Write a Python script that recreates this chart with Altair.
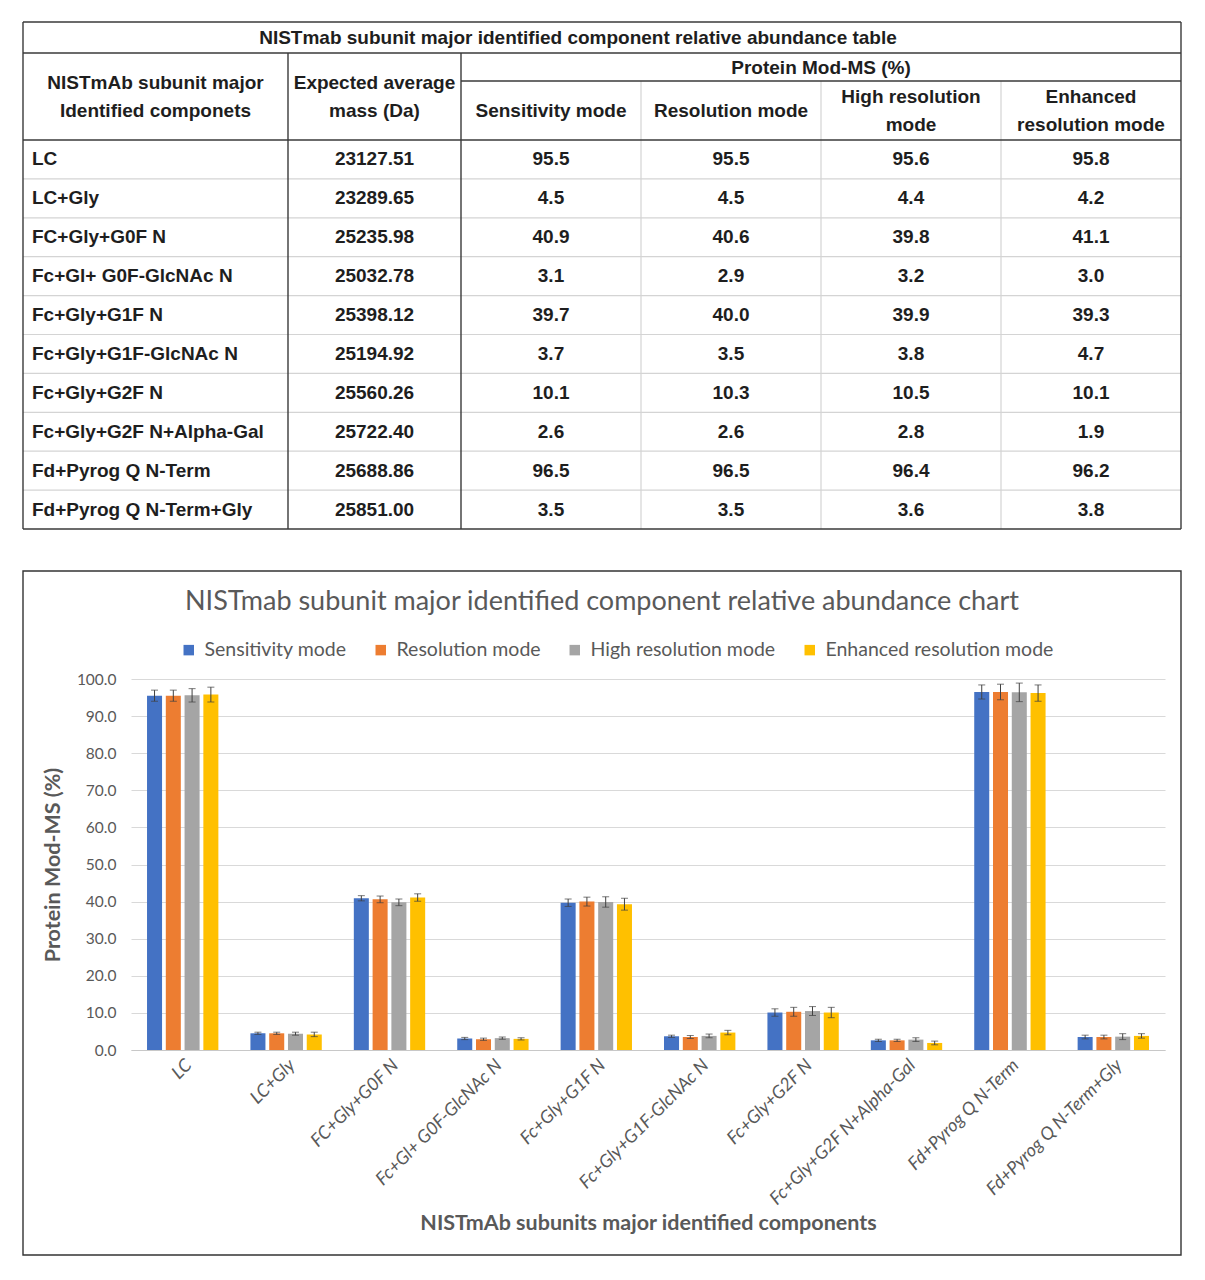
import altair as alt
import pandas as pd

# ---------------- data ----------------
components = ["LC", "LC+Gly", "FC+Gly+G0F N", "Fc+Gl+ G0F-GlcNAc N", "Fc+Gly+G1F N",
              "Fc+Gly+G1F-GlcNAc N", "Fc+Gly+G2F N", "Fc+Gly+G2F N+Alpha-Gal",
              "Fd+Pyrog Q N-Term", "Fd+Pyrog Q N-Term+Gly"]
masses = ["23127.51", "23289.65", "25235.98", "25032.78", "25398.12",
          "25194.92", "25560.26", "25722.40", "25688.86", "25851.00"]
modes = ["Sensitivity mode", "Resolution mode", "High resolution mode", "Enhanced resolution mode"]

sensitivity = [95.5, 4.5, 40.9, 3.1, 39.7, 3.7, 10.1, 2.6, 96.5, 3.5]
resolution = [95.5, 4.5, 40.6, 2.9, 40.0, 3.5, 10.3, 2.6, 96.5, 3.5]
high_res = [95.6, 4.4, 39.8, 3.2, 39.9, 3.8, 10.5, 2.8, 96.4, 3.6]
enhanced = [95.8, 4.2, 41.1, 3.0, 39.3, 4.7, 10.1, 1.9, 96.2, 3.8]

err_sensitivity = [1.5, 0.3, 0.7, 0.3, 1.0, 0.3, 1.0, 0.3, 1.9, 0.5]
err_resolution = [1.5, 0.3, 0.9, 0.3, 1.2, 0.4, 1.2, 0.3, 2.1, 0.5]
err_high_res = [1.8, 0.4, 0.9, 0.3, 1.4, 0.5, 1.2, 0.5, 2.5, 0.8]
err_enhanced = [2.0, 0.6, 1.0, 0.3, 1.6, 0.6, 1.4, 0.5, 2.2, 0.6]

colors = ["#4472C4", "#ED7D31", "#A5A5A5", "#FFC000"]

table_title = "NISTmab subunit major identified component relative abundance table"
chart_title = "NISTmab subunit major identified component relative abundance chart"
head_col1 = ["NISTmAb subunit major", "Identified componets"]
head_col2 = ["Expected average", "mass (Da)"]
head_group = "Protein Mod-MS (%)"
head_modes = [["Sensitivity mode"], ["Resolution mode"], ["High resolution", "mode"],
              ["Enhanced", "resolution mode"]]

# ---------------- table layout ----------------
col_w = [265, 173, 180, 180, 180, 180]
col_edges = [0]
for w in col_w:
    col_edges.append(col_edges[-1] + w)
TW = col_edges[-1]
TITLE_H, HEAD1_H, HEAD_H, ROW_H = 31, 28, 87, 38.9
DATA_TOP = TITLE_H + HEAD_H
TH = DATA_TOP + ROW_H * len(components)
LINE_GAP = 28
LEFT_EXT = 108  # bar chart plot starts this far right of the frame / table edge


def cx(i):
    return (col_edges[i] + col_edges[i + 1]) / 2


texts_c = []
texts_l = []
texts_c.append({"x": TW / 2 - 24, "y": TITLE_H / 2, "t": table_title})
for k, line in enumerate(head_col1):
    texts_c.append({"x": cx(0), "y": TITLE_H + HEAD_H / 2 + (k - 0.5) * LINE_GAP, "t": line})
for k, line in enumerate(head_col2):
    texts_c.append({"x": cx(1), "y": TITLE_H + HEAD_H / 2 + (k - 0.5) * LINE_GAP, "t": line})
texts_c.append({"x": (col_edges[2] + TW) / 2, "y": TITLE_H + HEAD1_H / 2 + 1, "t": head_group})
sub_mid = TITLE_H + HEAD1_H + (HEAD_H - HEAD1_H) / 2
for m, lines in enumerate(head_modes):
    n = len(lines)
    for k, line in enumerate(lines):
        texts_c.append({"x": cx(2 + m), "y": sub_mid + (k - (n - 1) / 2) * LINE_GAP, "t": line})
series = [sensitivity, resolution, high_res, enhanced]
for i, comp in enumerate(components):
    yy = DATA_TOP + ROW_H * (i + 0.5)
    texts_l.append({"x": 9, "y": yy, "t": comp})
    texts_c.append({"x": cx(1), "y": yy, "t": masses[i]})
    for m in range(4):
        texts_c.append({"x": cx(2 + m), "y": yy, "t": f"{series[m][i]:.1f}"})

dark_lines = [
    {"x": 0, "x2": TW, "y": 0, "y2": 0},
    {"x": 0, "x2": TW, "y": TH, "y2": TH},
    {"x": 0, "x2": 0, "y": 0, "y2": TH},
    {"x": TW, "x2": TW, "y": 0, "y2": TH},
    {"x": 0, "x2": TW, "y": TITLE_H, "y2": TITLE_H},
    {"x": 0, "x2": TW, "y": DATA_TOP, "y2": DATA_TOP},
    {"x": col_edges[1], "x2": col_edges[1], "y": TITLE_H, "y2": TH},
    {"x": col_edges[2], "x2": col_edges[2], "y": TITLE_H, "y2": TH},
    {"x": col_edges[2], "x2": TW, "y": TITLE_H + HEAD1_H, "y2": TITLE_H + HEAD1_H},
]
light_lines = []
for i in range(1, len(components)):
    yy = DATA_TOP + ROW_H * i
    light_lines.append({"x": 0, "x2": TW, "y": yy, "y2": yy})
for c in (3, 4, 5):
    light_lines.append({"x": col_edges[c], "x2": col_edges[c], "y": TITLE_H + HEAD1_H, "y2": TH})

tx = alt.X("x:Q", scale=alt.Scale(domain=[0, TW], range=[-LEFT_EXT, TW - LEFT_EXT],
                                  nice=False, zero=False), axis=None)
ty = alt.Y("y:Q", scale=alt.Scale(domain=[0, TH], nice=False, zero=False, reverse=True), axis=None)

light = alt.Chart(pd.DataFrame(light_lines)).mark_rule(color="#d4d4d4", strokeWidth=1.2).encode(
    x=tx, x2="x2:Q", y=ty, y2="y2:Q")
dark = alt.Chart(pd.DataFrame(dark_lines)).mark_rule(color="#3a3a3a", strokeWidth=1.4).encode(
    x=tx, x2="x2:Q", y=ty, y2="y2:Q")
txt_c = alt.Chart(pd.DataFrame(texts_c)).mark_text(
    font="Liberation Sans", fontWeight="bold", fontSize=19, color="#1e1e1e",
    align="center", baseline="middle").encode(x=tx, y=ty, text="t:N")
txt_l = alt.Chart(pd.DataFrame(texts_l)).mark_text(
    font="Liberation Sans", fontWeight="bold", fontSize=19, color="#1e1e1e",
    align="left", baseline="middle").encode(x=tx, y=ty, text="t:N")

table = alt.layer(light, dark, txt_c, txt_l).properties(width=TW - LEFT_EXT, height=TH)

# ---------------- bar chart ----------------
errs = [err_sensitivity, err_resolution, err_high_res, err_enhanced]
rows = []
for m, mode in enumerate(modes):
    for i, comp in enumerate(components):
        v = series[m][i]
        e = errs[m][i]
        rows.append({"component": comp, "mode": mode, "value": v, "lo": v - e, "hi": v + e})
df = pd.DataFrame(rows)

PW, PH = 1034, 371
GREY = "#595959"

x_enc = alt.X("component:N", sort=components,
              scale=alt.Scale(paddingInner=0.31, paddingOuter=0.155),
              axis=alt.Axis(labelAngle=-45, labelFont="Lato", labelFontStyle="italic",
                            labelFontSize=18, labelColor=GREY, ticks=False,
                            domainColor="#c8c8c8", labelPadding=6, grid=False, labelLimit=400,
                            title="NISTmAb subunits major identified components",
                            titleFont="Lato", titleFontSize=21.5, titleFontWeight="bold",
                            titleColor=GREY, titlePadding=4))
xo_enc = alt.XOffset("mode:N", sort=modes, scale=alt.Scale(paddingInner=0.2))
y_scale = alt.Scale(domain=[0, 100], nice=False)
y_axis = alt.Axis(values=list(range(0, 101, 10)), format=".1f", labelFont="Lato",
                  labelFontSize=15.5, labelColor=GREY, labelPadding=15, ticks=False,
                  labelOverlap=False, domain=False, gridColor="#d9d9d9", gridWidth=1,
                  title="Protein Mod-MS (%)", titleFont="Lato", titleFontSize=21.5,
                  titleFontWeight="bold", titleColor=GREY, titlePadding=12)

base = alt.Chart(df)
bars = base.mark_bar().encode(
    x=x_enc, xOffset=xo_enc, y=alt.Y("value:Q", scale=y_scale, axis=y_axis),
    color=alt.Color("mode:N", sort=modes, scale=alt.Scale(domain=modes, range=colors),
                    legend=alt.Legend(orient="none", legendX=48, legendY=-39,
                                      direction="horizontal", symbolType="square",
                                      symbolSize=110, symbolStrokeWidth=0,
                                      labelFont="Lato", labelFontSize=19.5, labelColor=GREY,
                                      labelOffset=6, columnPadding=24, labelLimit=400,
                                      title=None)))
err_line = base.mark_rule(color="#404040", strokeWidth=1).encode(
    x=x_enc, xOffset=xo_enc, y=alt.Y("lo:Q", scale=y_scale, axis=y_axis), y2="hi:Q")
cap_hi = base.mark_tick(color="#404040", thickness=1, size=7, orient="horizontal").encode(
    x=x_enc, xOffset=xo_enc, y=alt.Y("hi:Q", scale=y_scale, axis=y_axis))
cap_lo = base.mark_tick(color="#404040", thickness=1, size=7, orient="horizontal").encode(
    x=x_enc, xOffset=xo_enc, y=alt.Y("lo:Q", scale=y_scale, axis=y_axis))
frame = alt.Chart(pd.DataFrame({"f": [0]})).mark_rect(
    fillOpacity=0, stroke="#333333", strokeWidth=1.4).encode(
    x=alt.value(-LEFT_EXT), x2=alt.value(PW + 16), y=alt.value(-108), y2=alt.value(PH + 205))

barchart = alt.layer(bars, err_line, cap_hi, cap_lo, frame).properties(
    width=PW, height=PH,
    title=alt.Title(text=chart_title, frame="group", offset=-46, dx=-46, anchor="middle",
                    font="Lato", fontSize=27, fontWeight="normal", color=GREY))

chart = alt.vconcat(table, barchart, spacing=40).properties(
    padding={"left": 14, "top": 13, "right": 5, "bottom": 5}
).resolve_scale(color="independent").configure_view(strokeWidth=0)

chart.save("out.html", embed_options={"renderer": "svg", "actions": False})
